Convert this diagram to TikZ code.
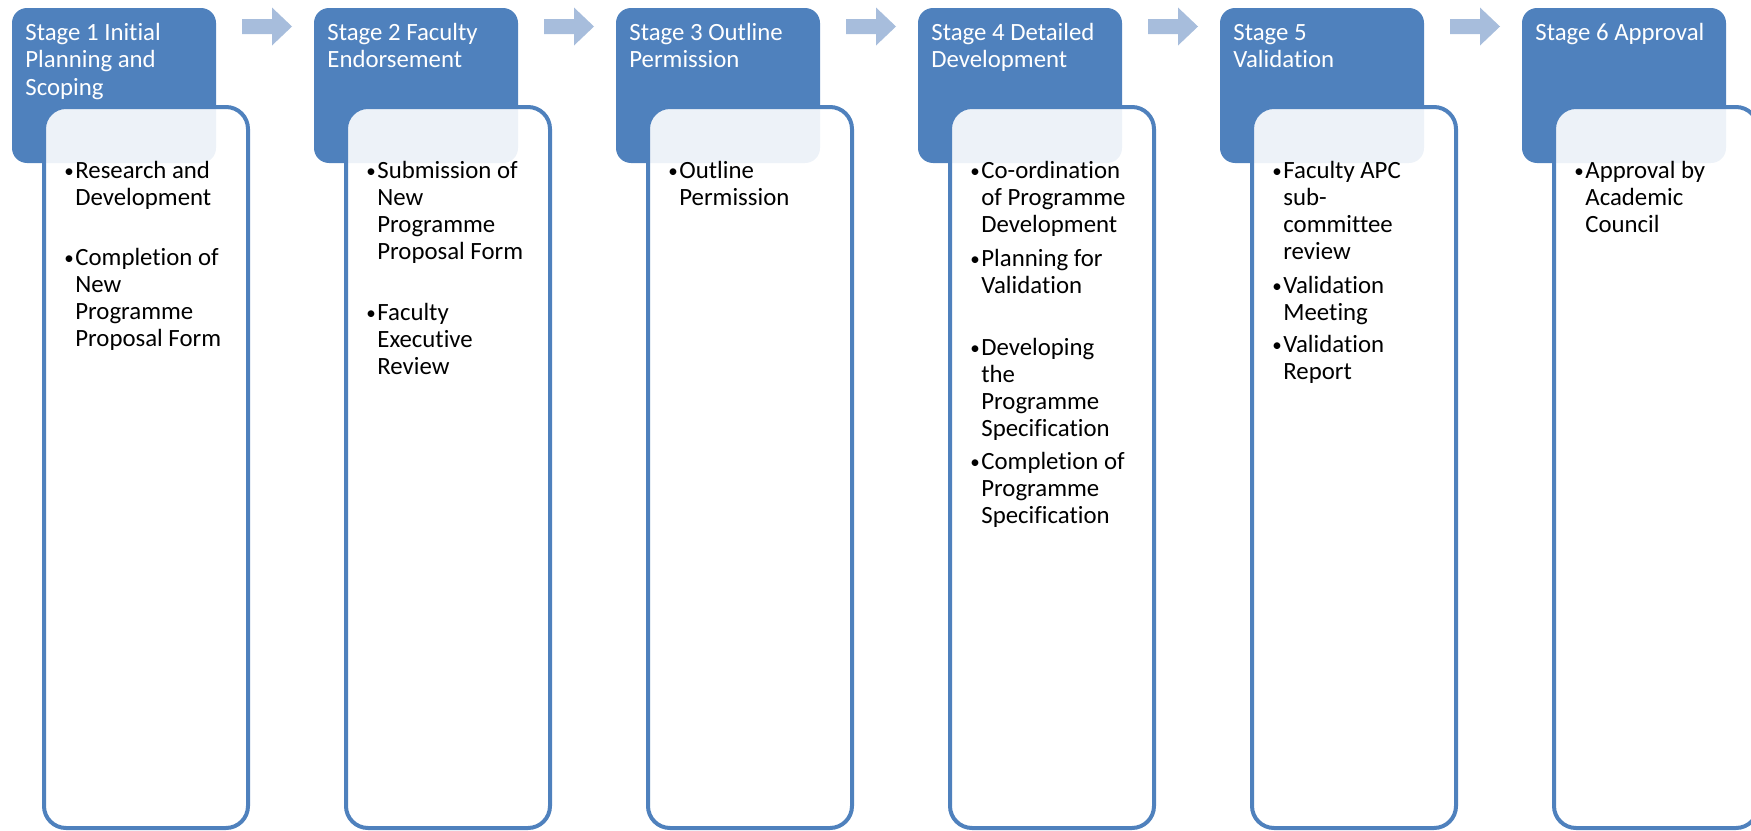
\documentclass[tikz,border=0pt]{standalone}
\usepackage{fontspec}
\setmainfont{Carlito}[Ligatures=NoCommon]
\definecolor{accent}{RGB}{79,129,189}
\definecolor{arrowblue}{RGB}{167,189,220}
\newcommand{\bul}{\llap{\raisebox{0.5pt}{\fontsize{9.5}{9.5}\selectfont •}\hspace{0.8pt}}}
% a block of lines whose reference point is the first line's baseline
\newcommand{\lines}[1]{\begin{tabular}[t]{@{}l@{}}#1\end{tabular}}
\begin{document}
\begin{tikzpicture}[x=0.5pt,y=-0.5pt,
  stagehead/.style={fill=accent,rounded corners=7.5pt},
  panel/.style={draw=accent,line width=2pt,fill=white,fill opacity=0.9,rounded corners=11pt},
  stagearrow/.style={fill=arrowblue},
  htext/.style={anchor=base west,inner sep=0pt,text=white,
    font=\fontsize{12.4}{13.6}\selectfont},
  btext/.style={anchor=base west,inner sep=0pt,text=black,
    font=\fontsize{12.4}{13.6}\selectfont}]
\useasboundingbox (0,0) rectangle (1751,830);

% header blocks, content panels and the arrows between stages
\foreach \k in {0,...,5}{
  \pgfmathsetmacro{\xk}{12+302*\k}
  \fill[stagehead] (\xk,8) rectangle ++(204,155);
  \path[panel] (\xk+32,107) rectangle (\xk+236,828);
}
\foreach \k in {0,...,4}{
  \pgfmathsetmacro{\xk}{12+302*\k}
  \fill[stagearrow] (\xk+230,19) -- (\xk+260,19) -- (\xk+260,7.5) -- (\xk+280,26.5)
    -- (\xk+260,45.5) -- (\xk+260,34) -- (\xk+230,34) -- cycle;
}

% stage titles
\node[htext] (h1) at (25,40.7)   {\lines{Stage 1 Initial\\Planning and\\Scoping}};
\node[htext] (h2) at (327,40.7)  {\lines{Stage 2 Faculty\\Endorsement}};
\node[htext] (h3) at (629,40.7)  {\lines{Stage 3 Outline\\Permission}};
\node[htext] (h4) at (931,40.7)  {\lines{Stage 4 Detailed\\Development}};
\node[htext] (h5) at (1233,40.7) {\lines{Stage 5\\Validation}};
\node[htext] (h6) at (1535,40.7) {\lines{Stage 6 Approval}};

% stage 1
\node[btext] (s1a) at (75,178) {\lines{\bul Research and\\Development}};
\node[btext] (s1b) at (75,265) {\lines{\bul Completion of\\New\\Programme\\Proposal Form}};
% stage 2
\node[btext] (s2a) at (377,178) {\lines{\bul Submission of\\New\\Programme\\Proposal Form}};
\node[btext] (s2b) at (377,320) {\lines{\bul Faculty\\Executive\\Review}};
% stage 3
\node[btext] (s3a) at (679,178) {\lines{\bul Outline\\Permission}};
% stage 4
\node[btext] (s4a) at (981,178) {\lines{\bul Co-ordination\\of Programme\\Development}};
\node[btext] (s4b) at (981,266) {\lines{\bul Planning for\\Validation}};
\node[btext] (s4c) at (981,355) {\lines{\bul Developing\\the\\Programme\\Specification}};
\node[btext] (s4d) at (981,469) {\lines{\bul Completion of\\Programme\\Specification}};
% stage 5
\node[btext] (s5a) at (1283,178) {\lines{\bul Faculty APC\\sub-\\committee\\review}};
\node[btext] (s5b) at (1283,293) {\lines{\bul Validation\\Meeting}};
\node[btext] (s5c) at (1283,352) {\lines{\bul Validation\\Report}};
% stage 6
\node[btext] (s6a) at (1585,178) {\lines{\bul Approval by\\Academic\\Council}};
\end{tikzpicture}
\end{document}
